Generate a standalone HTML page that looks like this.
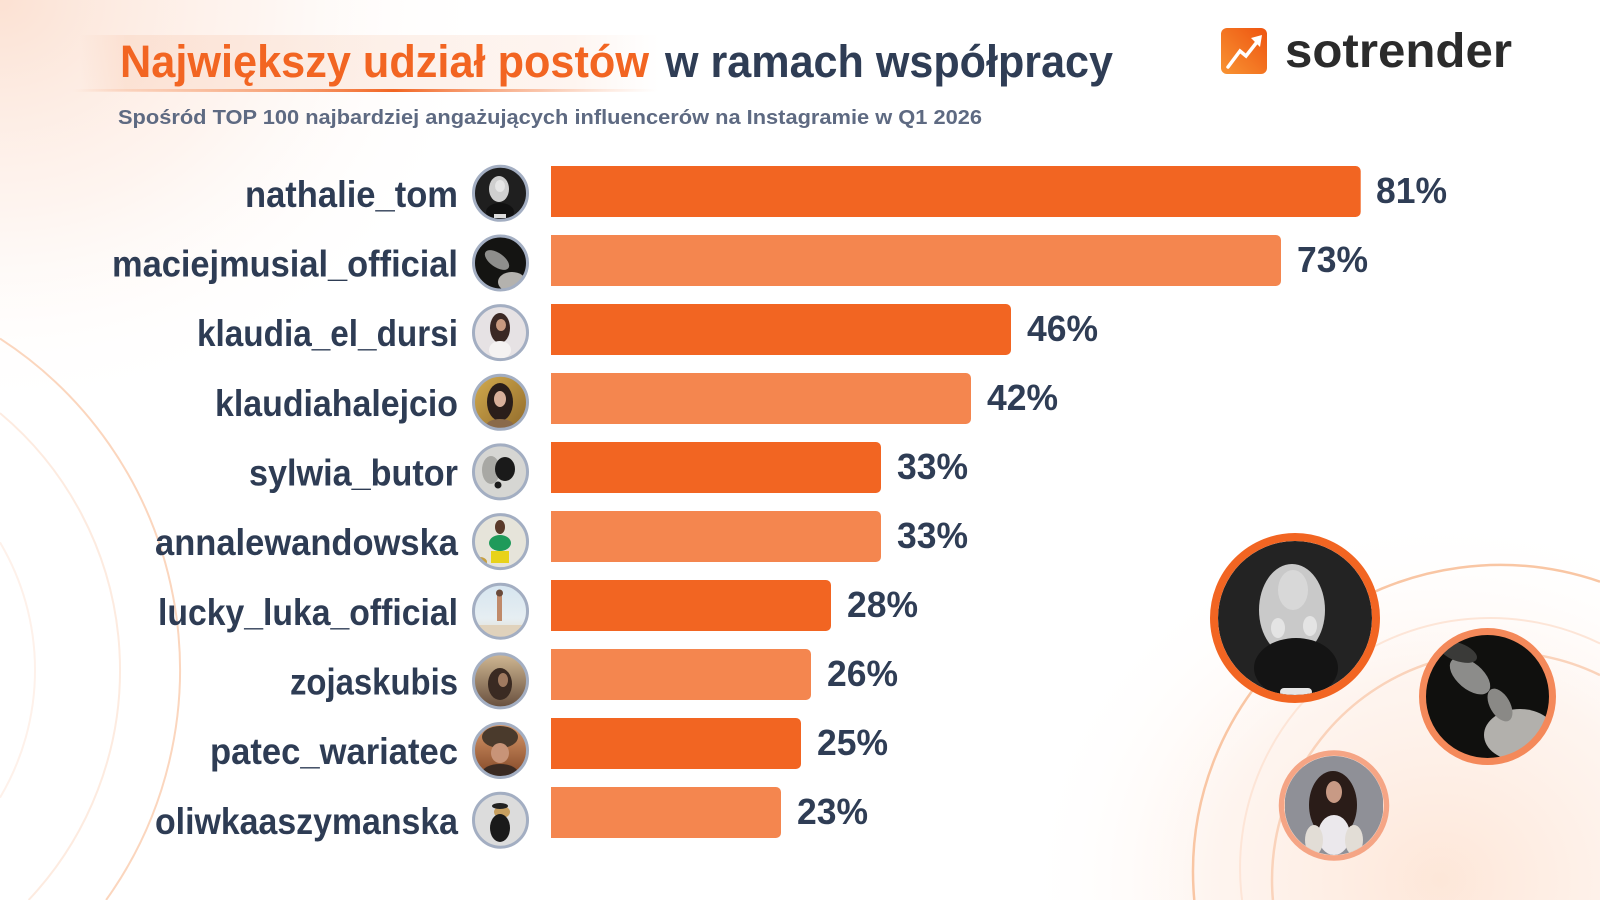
<!DOCTYPE html>
<html>
<head>
<meta charset="utf-8">
<style>
  html,body{margin:0;padding:0;background:#ffffff;overflow:hidden;width:1600px;height:900px;}
  svg{display:block;overflow:hidden;}
  text{font-family:"Liberation Sans", Arial, sans-serif;font-weight:bold;}
</style>
</head>
<body>
<svg width="1600" height="900" viewBox="0 0 1600 900" xmlns="http://www.w3.org/2000/svg">
  <defs>
    <radialGradient id="gTL" cx="0" cy="0" r="1" gradientUnits="userSpaceOnUse" gradientTransform="translate(0,0) scale(500,420)">
      <stop offset="0" stop-color="#fbdccb" stop-opacity="0.85"/>
      <stop offset="0.5" stop-color="#fdeae0" stop-opacity="0.5"/>
      <stop offset="1" stop-color="#ffffff" stop-opacity="0"/>
    </radialGradient>
    <radialGradient id="gBR" cx="0" cy="0" r="1" gradientUnits="userSpaceOnUse" gradientTransform="translate(1440,880) scale(420,370)">
      <stop offset="0" stop-color="#fde4d4" stop-opacity="0.9"/>
      <stop offset="0.55" stop-color="#feeee5" stop-opacity="0.6"/>
      <stop offset="1" stop-color="#ffffff" stop-opacity="0"/>
    </radialGradient>
    <linearGradient id="gHL" x1="0" y1="0" x2="1" y2="0">
      <stop offset="0" stop-color="#f9cfb8" stop-opacity="0.0"/>
      <stop offset="0.08" stop-color="#f9d2bd" stop-opacity="0.45"/>
      <stop offset="0.85" stop-color="#fbe2d4" stop-opacity="0.35"/>
      <stop offset="1" stop-color="#fde9de" stop-opacity="0"/>
    </linearGradient>
    <linearGradient id="gUL" x1="0" y1="0" x2="1" y2="0">
      <stop offset="0" stop-color="#f7a57a" stop-opacity="0"/>
      <stop offset="0.25" stop-color="#f7a57a" stop-opacity="0.7"/>
      <stop offset="0.55" stop-color="#f26522" stop-opacity="1"/>
      <stop offset="0.8" stop-color="#f8b08c" stop-opacity="0.7"/>
      <stop offset="1" stop-color="#fbd2bd" stop-opacity="0"/>
    </linearGradient>
    <linearGradient id="gLogo" x1="0" y1="1" x2="1" y2="0">
      <stop offset="0" stop-color="#f89433"/>
      <stop offset="1" stop-color="#ee5410"/>
    </linearGradient>
    <linearGradient id="gSky" x1="0" y1="0" x2="0" y2="1">
      <stop offset="0" stop-color="#d4e4ef"/>
      <stop offset="0.6" stop-color="#e6eef2"/>
      <stop offset="1" stop-color="#e2d6c4"/>
    </linearGradient>
    <linearGradient id="gZoja" x1="0" y1="0" x2="0" y2="1">
      <stop offset="0" stop-color="#d9c09a"/>
      <stop offset="1" stop-color="#5e4636"/>
    </linearGradient>
    <linearGradient id="gPatec" x1="0" y1="0" x2="0" y2="1">
      <stop offset="0" stop-color="#e0a070"/>
      <stop offset="1" stop-color="#7a3f20"/>
    </linearGradient>
    <linearGradient id="gGold" x1="0" y1="0" x2="1" y2="1">
      <stop offset="0" stop-color="#d8b050"/>
      <stop offset="1" stop-color="#8a6428"/>
    </linearGradient>
    <clipPath id="cA"><circle cx="1295" cy="618" r="77"/></clipPath>
    <clipPath id="cB"><circle cx="1487.5" cy="696.5" r="62"/></clipPath>
    <clipPath id="cC"><circle cx="1334" cy="805.5" r="49.5"/></clipPath>
  </defs>

  <!-- background glows -->
  <rect x="0" y="0" width="1600" height="900" fill="#ffffff"/>
  <rect x="0" y="0" width="700" height="500" fill="url(#gTL)"/>
  <rect x="950" y="450" width="650" height="450" fill="url(#gBR)"/>

  <!-- left arcs (clipped to frame geometrically) -->
  <path d="M0,338.6 A395,395 0 0 1 106.1,900" fill="none" stroke="#fbd6be" stroke-width="2"/>
  <path d="M0,413.1 A335,335 0 0 1 28.6,900" fill="none" stroke="#fdebe0" stroke-width="2"/>
  <path d="M0,542.4 A250,250 0 0 1 0,797.6" fill="none" stroke="#fef1ea" stroke-width="2"/>

  <!-- right arcs -->
  <path d="M1194.3,900 A307,307 0 0 1 1600,581.7" fill="none" stroke="#f9c6a4" stroke-width="2.5"/>
  <path d="M1242.1,900 A250,250 0 0 1 1600,643.5" fill="none" stroke="#fde5d7" stroke-width="2"/>
  <path d="M1272.9,900 A228,228 0 0 1 1600,675.1" fill="none" stroke="#fad3bb" stroke-width="2.5"/>

  <!-- title highlight + underline -->
  <rect x="80" y="35" width="580" height="56" fill="url(#gHL)"/>
  <rect x="72" y="89" width="585" height="3" fill="url(#gUL)"/>

  <!-- title -->
  <text x="120" y="77" font-size="45" fill="#f26522" textLength="529" lengthAdjust="spacingAndGlyphs">Największy udział postów</text>
  <text x="665" y="77" font-size="45" fill="#2f3d55" textLength="448" lengthAdjust="spacingAndGlyphs">w ramach współpracy</text>
  <text x="118" y="124" font-size="20" fill="#5e6a82" textLength="864" lengthAdjust="spacingAndGlyphs">Spośród TOP 100 najbardziej angażujących influencerów na Instagramie w Q1 2026</text>

  <!-- logo -->
  <rect x="1221" y="28" width="46" height="46" rx="6" fill="url(#gLogo)"/>
  <polyline points="1228,67 1240,51 1246,56 1257,42" fill="none" stroke="#ffffff" stroke-width="3.5" stroke-linejoin="miter" stroke-linecap="round"/>
  <polygon points="1251,38 1262,35 1260,47" fill="#ffffff"/>
  <text x="1285" y="67" font-size="48" fill="#2b2b2b" textLength="227" lengthAdjust="spacingAndGlyphs">sotrender</text>

  <!-- bars -->
  <g>
    <path d="M551,166 h804.7 a5,5 0 0 1 5,5 v41 a5,5 0 0 1 -5,5 h-804.7 z" fill="#f26522"/>
    <path d="M551,235 h725 a5,5 0 0 1 5,5 v41 a5,5 0 0 1 -5,5 h-725 z" fill="#f4864f"/>
    <path d="M551,304 h455 a5,5 0 0 1 5,5 v41 a5,5 0 0 1 -5,5 h-455 z" fill="#f26522"/>
    <path d="M551,373 h415 a5,5 0 0 1 5,5 v41 a5,5 0 0 1 -5,5 h-415 z" fill="#f4864f"/>
    <path d="M551,442 h325 a5,5 0 0 1 5,5 v41 a5,5 0 0 1 -5,5 h-325 z" fill="#f26522"/>
    <path d="M551,511 h325 a5,5 0 0 1 5,5 v41 a5,5 0 0 1 -5,5 h-325 z" fill="#f4864f"/>
    <path d="M551,580 h275 a5,5 0 0 1 5,5 v41 a5,5 0 0 1 -5,5 h-275 z" fill="#f26522"/>
    <path d="M551,649 h255 a5,5 0 0 1 5,5 v41 a5,5 0 0 1 -5,5 h-255 z" fill="#f4864f"/>
    <path d="M551,718 h245 a5,5 0 0 1 5,5 v41 a5,5 0 0 1 -5,5 h-245 z" fill="#f26522"/>
    <path d="M551,787 h225 a5,5 0 0 1 5,5 v41 a5,5 0 0 1 -5,5 h-225 z" fill="#f4864f"/>
  </g>

  <!-- percentages -->
  <g font-size="36" fill="#2f3d55">
    <text x="1376" y="203" textLength="71" lengthAdjust="spacingAndGlyphs">81%</text>
    <text x="1297" y="272" textLength="71" lengthAdjust="spacingAndGlyphs">73%</text>
    <text x="1027" y="341" textLength="71" lengthAdjust="spacingAndGlyphs">46%</text>
    <text x="987" y="410" textLength="71" lengthAdjust="spacingAndGlyphs">42%</text>
    <text x="897" y="479" textLength="71" lengthAdjust="spacingAndGlyphs">33%</text>
    <text x="897" y="548" textLength="71" lengthAdjust="spacingAndGlyphs">33%</text>
    <text x="847" y="617" textLength="71" lengthAdjust="spacingAndGlyphs">28%</text>
    <text x="827" y="686" textLength="71" lengthAdjust="spacingAndGlyphs">26%</text>
    <text x="817" y="755" textLength="71" lengthAdjust="spacingAndGlyphs">25%</text>
    <text x="797" y="824" textLength="71" lengthAdjust="spacingAndGlyphs">23%</text>
  </g>

  <!-- labels -->
  <g font-size="37" fill="#2e3c54" text-anchor="end">
    <text x="458" y="207" textLength="213" lengthAdjust="spacingAndGlyphs">nathalie_tom</text>
    <text x="458" y="276.5" textLength="346" lengthAdjust="spacingAndGlyphs">maciejmusial_official</text>
    <text x="458" y="346" textLength="261" lengthAdjust="spacingAndGlyphs">klaudia_el_dursi</text>
    <text x="458" y="416" textLength="243" lengthAdjust="spacingAndGlyphs">klaudiahalejcio</text>
    <text x="458" y="485.5" textLength="209" lengthAdjust="spacingAndGlyphs">sylwia_butor</text>
    <text x="458" y="555" textLength="303" lengthAdjust="spacingAndGlyphs">annalewandowska</text>
    <text x="458" y="625" textLength="300" lengthAdjust="spacingAndGlyphs">lucky_luka_official</text>
    <text x="458" y="694.5" textLength="168" lengthAdjust="spacingAndGlyphs">zojaskubis</text>
    <text x="458" y="764" textLength="248" lengthAdjust="spacingAndGlyphs">patec_wariatec</text>
    <text x="458" y="834" textLength="303" lengthAdjust="spacingAndGlyphs">oliwkaaszymanska</text>
  </g>

  <!-- small avatars -->
  <defs>
    <clipPath id="a1"><circle cx="500.5" cy="193.3" r="27"/></clipPath>
    <clipPath id="a2"><circle cx="500.5" cy="263" r="27"/></clipPath>
    <clipPath id="a3"><circle cx="500.5" cy="332.6" r="27"/></clipPath>
    <clipPath id="a4"><circle cx="500.5" cy="402.3" r="27"/></clipPath>
    <clipPath id="a5"><circle cx="500.5" cy="471.9" r="27"/></clipPath>
    <clipPath id="a6"><circle cx="500.5" cy="541.6" r="27"/></clipPath>
    <clipPath id="a7"><circle cx="500.5" cy="611.2" r="27"/></clipPath>
    <clipPath id="a8"><circle cx="500.5" cy="680.9" r="27"/></clipPath>
    <clipPath id="a9"><circle cx="500.5" cy="750.5" r="27"/></clipPath>
    <clipPath id="a10"><circle cx="500.5" cy="820.2" r="27"/></clipPath>
  </defs>
  <g clip-path="url(#a1)">
    <rect x="470" y="163" width="62" height="62" fill="#1f1f1f"/>
    <ellipse cx="499" cy="189" rx="10" ry="13" fill="#cfcfcf"/>
    <ellipse cx="500" cy="186" rx="5" ry="6" fill="#e6e6e6"/>
    <ellipse cx="500" cy="212" rx="14" ry="9" fill="#111"/>
    <rect x="494" y="214" width="12" height="4" fill="#ddd"/>
  </g>
  <circle cx="500.5" cy="193.3" r="27" fill="none" stroke="#a3aec2" stroke-width="3"/>
  <g clip-path="url(#a2)">
    <rect x="470" y="232" width="62" height="62" fill="#141412"/>
    <ellipse cx="497" cy="260" rx="14" ry="7" transform="rotate(35 497 260)" fill="#8e8e8c"/>
    <ellipse cx="512" cy="282" rx="14" ry="10" fill="#b4b2ae"/>
  </g>
  <circle cx="500.5" cy="263" r="27" fill="none" stroke="#a3aec2" stroke-width="3"/>
  <g clip-path="url(#a3)">
    <rect x="470" y="302" width="62" height="62" fill="#e6e2e4"/>
    <ellipse cx="500" cy="328" rx="10" ry="15" fill="#3a2824"/>
    <ellipse cx="501" cy="325" rx="5" ry="6" fill="#c99a80"/>
    <ellipse cx="500" cy="350" rx="11" ry="9" fill="#f4f2f2"/>
  </g>
  <circle cx="500.5" cy="332.6" r="27" fill="none" stroke="#a3aec2" stroke-width="3"/>
  <g clip-path="url(#a4)">
    <rect x="470" y="372" width="62" height="62" fill="url(#gGold)"/>
    <ellipse cx="500" cy="402" rx="13" ry="19" fill="#2a1e1a"/>
    <ellipse cx="500" cy="399" rx="6" ry="8" fill="#d8b09a"/>
    <ellipse cx="500" cy="426" rx="14" ry="7" fill="#8a6a4a"/>
  </g>
  <circle cx="500.5" cy="402.3" r="27" fill="none" stroke="#a3aec2" stroke-width="3"/>
  <g clip-path="url(#a5)">
    <rect x="470" y="441" width="62" height="62" fill="#d6d6d3"/>
    <ellipse cx="491" cy="470" rx="9" ry="14" fill="#a8a8a4"/>
    <ellipse cx="505" cy="469" rx="10" ry="12" fill="#1a1a1a"/>
    <circle cx="498" cy="485" r="3.5" fill="#1a1a1a"/>
  </g>
  <circle cx="500.5" cy="471.9" r="27" fill="none" stroke="#a3aec2" stroke-width="3"/>
  <g clip-path="url(#a6)">
    <rect x="470" y="511" width="62" height="62" fill="#e6e4da"/>
    <ellipse cx="500" cy="527" rx="5" ry="7" fill="#5a3a2a"/>
    <ellipse cx="500" cy="543" rx="11" ry="8" fill="#1f9a5a"/>
    <rect x="491" y="551" width="18" height="12" fill="#e8d21a"/>
    <ellipse cx="480" cy="562" rx="7" ry="5" fill="#c8a040"/>
  </g>
  <circle cx="500.5" cy="541.6" r="27" fill="none" stroke="#a3aec2" stroke-width="3"/>
  <g clip-path="url(#a7)">
    <rect x="470" y="581" width="62" height="62" fill="url(#gSky)"/>
    <rect x="497" y="595" width="5" height="26" fill="#c08a6a"/>
    <circle cx="499.5" cy="593" r="3.5" fill="#6a4a3a"/>
    <rect x="470" y="625" width="62" height="18" fill="#e0d2bc"/>
  </g>
  <circle cx="500.5" cy="611.2" r="27" fill="none" stroke="#a3aec2" stroke-width="3"/>
  <g clip-path="url(#a8)">
    <rect x="470" y="650" width="62" height="62" fill="url(#gZoja)"/>
    <ellipse cx="500" cy="684" rx="12" ry="16" fill="#3a2a22"/>
    <ellipse cx="503" cy="680" rx="5" ry="7" fill="#a07a60"/>
  </g>
  <circle cx="500.5" cy="680.9" r="27" fill="none" stroke="#a3aec2" stroke-width="3"/>
  <g clip-path="url(#a9)">
    <rect x="470" y="720" width="62" height="62" fill="url(#gPatec)"/>
    <ellipse cx="500" cy="737" rx="18" ry="11" fill="#4a3a2c"/>
    <ellipse cx="500" cy="753" rx="9" ry="10" fill="#c89478"/>
    <ellipse cx="500" cy="773" rx="18" ry="9" fill="#3a2a22"/>
  </g>
  <circle cx="500.5" cy="750.5" r="27" fill="none" stroke="#a3aec2" stroke-width="3"/>
  <g clip-path="url(#a10)">
    <rect x="470" y="790" width="62" height="62" fill="#dcdcdc"/>
    <ellipse cx="502" cy="812" rx="8" ry="6" fill="#c8a060"/>
    <ellipse cx="500" cy="828" rx="10" ry="14" fill="#1a1a1a"/>
    <ellipse cx="500" cy="806" rx="8" ry="3" fill="#222"/>
  </g>
  <circle cx="500.5" cy="820.2" r="27" fill="none" stroke="#a3aec2" stroke-width="3"/>

  <!-- big circle A -->
  <g clip-path="url(#cA)">
    <rect x="1210" y="533" width="170" height="170" fill="#232323"/>
    <ellipse cx="1292" cy="610" rx="33" ry="46" fill="#c9c9c9"/>
    <ellipse cx="1293" cy="590" rx="15" ry="20" fill="#d8d8d8"/>
    <ellipse cx="1296" cy="668" rx="42" ry="30" fill="#141414"/>
    <ellipse cx="1278" cy="628" rx="7" ry="10" fill="#e4e4e4"/>
    <ellipse cx="1310" cy="626" rx="7" ry="10" fill="#e4e4e4"/>
    <rect x="1280" y="688" width="32" height="8" rx="4" fill="#e6e6e6"/>
  </g>
  <circle cx="1295" cy="618" r="81" fill="none" stroke="#f26522" stroke-width="8"/>

  <!-- big circle B -->
  <g clip-path="url(#cB)">
    <rect x="1420" y="630" width="140" height="140" fill="#10100e"/>
    <ellipse cx="1470" cy="676" rx="24" ry="13" transform="rotate(40 1470 676)" fill="#8c8c8a"/>
    <ellipse cx="1458" cy="652" rx="20" ry="9" transform="rotate(20 1458 652)" fill="#3a3a38"/>
    <ellipse cx="1520" cy="735" rx="36" ry="26" fill="#b2b0ac"/>
    <ellipse cx="1500" cy="705" rx="10" ry="18" transform="rotate(-30 1500 705)" fill="#8a8986"/>
  </g>
  <circle cx="1487.5" cy="696.5" r="65" fill="none" stroke="#f4895a" stroke-width="7"/>

  <!-- big circle C -->
  <g clip-path="url(#cC)">
    <rect x="1285" y="756" width="98" height="99" fill="#8f9097"/>
    <ellipse cx="1333" cy="805" rx="24" ry="34" fill="#2a1c18"/>
    <ellipse cx="1334" cy="792" rx="8" ry="11" fill="#c89a85"/>
    <ellipse cx="1334" cy="835" rx="16" ry="20" fill="#ebe8ec"/>
    <ellipse cx="1314" cy="840" rx="9" ry="15" fill="#e2ddd6"/>
    <ellipse cx="1354" cy="840" rx="9" ry="15" fill="#e2ddd6"/>
  </g>
  <circle cx="1334" cy="805.5" r="52.5" fill="none" stroke="#f5a585" stroke-width="5.5"/>
</svg>
</body>
</html>
